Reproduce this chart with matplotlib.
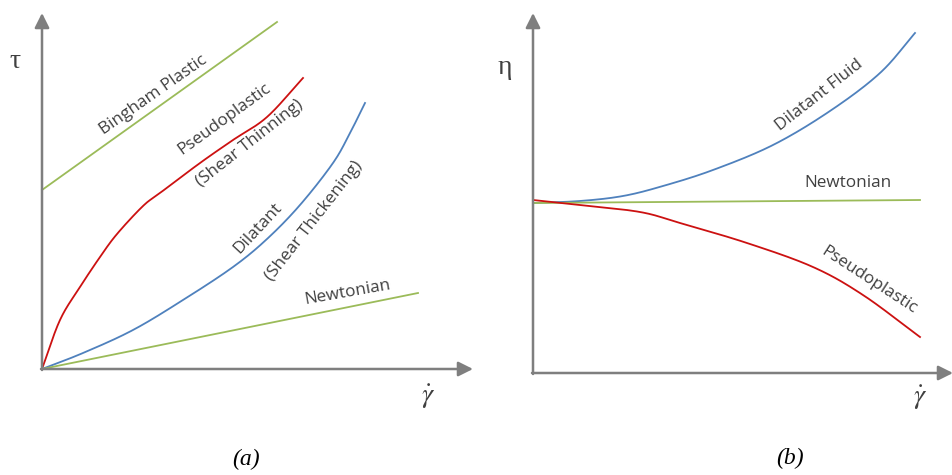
import numpy as np
import matplotlib
matplotlib.use('Agg')
import matplotlib.pyplot as plt

# shear rate vs stress / viscosity, arbitrary units (origin at axis corner)
# panel (a): shear stress tau vs shear rate
bingham_x = [0, 235]
bingham_y = [179, 347]
pseudo_x = [0, 18, 38, 58, 75, 101, 118, 158, 191, 225, 261]
pseudo_y = [0, 49, 82, 112, 135, 163, 176, 206, 229, 252, 291]
dilat_x = [0, 41, 91, 141, 191, 225, 258, 291, 308, 323]
dilat_y = [0, 16, 39, 69, 102, 130, 164, 206, 236, 266]
newt_x = [0, 376]
newt_y = [0, 76]

# panel (b): viscosity eta vs shear rate
b_dilat_x = [0, 47, 90, 130, 180, 240, 297, 347, 382]
b_dilat_y = [170, 172, 177, 187, 203, 228, 262, 300, 340]
b_newt_x = [0, 387]
b_newt_y = [170, 173]
b_pseudo_x = [0, 47, 107, 147, 214, 280, 330, 387]
b_pseudo_y = [173, 168, 161, 150, 130, 106, 78, 36]

GREEN = '#9bbb59'
RED = '#cc1111'
BLUE = '#4f81bd'
GRAY = '#7f7f7f'
TXT = '#404040'

plt.rcParams['font.family'] = ['Open Sans', 'DejaVu Sans']
plt.rcParams['mathtext.fontset'] = 'stix'

fig = plt.figure(figsize=(9.53, 4.75), dpi=100)
W, H = 953, 475

def make_axes(left_px, width_px, x0, y0):
    # 1 data unit == 1 pixel, origin at pixel (x0, y0)
    ax = fig.add_axes([left_px / W, 0, width_px / W, 1])
    ax.set_xlim(left_px - x0, left_px + width_px - x0)
    ax.set_ylim(-(H - y0), y0)
    ax.axis('off')
    return ax

def arrows(ax, xend, yend):
    ap = dict(arrowstyle='-|>', color=GRAY, lw=1.8, mutation_scale=22, shrinkA=0, shrinkB=0)
    ax.annotate('', xy=(0, yend), xytext=(0, -1), arrowprops=ap)
    ax.annotate('', xy=(xend, 0), xytext=(-1, 0), arrowprops=ap)

def smooth(x, y, n=30):
    # Catmull-Rom spline through the read-off points
    p = np.column_stack([x, y]).astype(float)
    p = np.vstack([2 * p[0] - p[1], p, 2 * p[-1] - p[-2]])
    out = []
    t = np.linspace(0, 1, n, endpoint=False)[:, None]
    for i in range(1, len(p) - 2):
        p0, p1, p2, p3 = p[i - 1], p[i], p[i + 1], p[i + 2]
        seg = 0.5 * ((2 * p1) + (-p0 + p2) * t + (2 * p0 - 5 * p1 + 4 * p2 - p3) * t ** 2
                     + (-p0 + 3 * p1 - 3 * p2 + p3) * t ** 3)
        out.append(seg)
    out.append(p[-2][None, :])
    out = np.vstack(out)
    return out[:, 0], out[:, 1]

# ---- panel (a)
ax1 = make_axes(0, 477, 42, 369)
arrows(ax1, 431, 356)
ax1.plot(bingham_x, bingham_y, color=GREEN, lw=1.3)
ax1.plot(*smooth(pseudo_x, pseudo_y), color=RED, lw=1.3)
ax1.plot(*smooth(dilat_x, dilat_y), color=BLUE, lw=1.3)
ax1.plot(newt_x, newt_y, color=GREEN, lw=1.3)

fs = 12.3
ax1.text(111, 274, 'Bingham Plastic', rotation=35, fontsize=fs, color=TXT, ha='center', va='center')
ax1.text(182, 250, 'Pseudoplastic', rotation=36, fontsize=fs, color=TXT, ha='center', va='center')
ax1.text(208, 226, '(Shear Thinning)', rotation=38, fontsize=fs, color=TXT, ha='center', va='center')
ax1.text(216, 141, 'Dilatant', rotation=47, fontsize=fs, color=TXT, ha='center', va='center')
ax1.text(272, 148, '(Shear Thickening)', rotation=52, fontsize=fs, color=TXT, ha='center', va='center')
ax1.text(306, 77, 'Newtonian', rotation=10, fontsize=fs, color=TXT, ha='center', va='center')

ax1.text(-27, 308, 'τ', fontsize=20, family='Liberation Serif', color=TXT, ha='center', va='center')
ax1.text(386, -28, r'$\dot{\gamma}$', fontsize=20, color=TXT, ha='center', va='center')
ax1.text(204, -90, '(a)', fontsize=17, style='italic', family='Liberation Serif', color='black',
         ha='center', va='center')

# ---- panel (b)
ax2 = make_axes(477, 476, 533, 373)
arrows(ax2, 420, 360)
ax2.plot(*smooth(b_dilat_x, b_dilat_y), color=BLUE, lw=1.3)
ax2.plot(b_newt_x, b_newt_y, color=GREEN, lw=1.3)
ax2.plot(*smooth(b_pseudo_x, b_pseudo_y), color=RED, lw=1.3)

ax2.text(286, 278, 'Dilatant Fluid', rotation=38, fontsize=fs, color=TXT, ha='center', va='center')
ax2.text(315, 190, 'Newtonian', rotation=0, fontsize=fs, color=TXT, ha='center', va='center')
ax2.text(336, 93, 'Pseudoplastic', rotation=-33, fontsize=fs, color=TXT, ha='center', va='center')

ax2.text(-28, 306, 'η', fontsize=20, family='Liberation Serif', color=TXT, ha='center', va='center')
ax2.text(387, -25, r'$\dot{\gamma}$', fontsize=20, color=TXT, ha='center', va='center')
ax2.text(257, -85, '(b)', fontsize=17, style='italic', family='Liberation Serif', color='black',
         ha='center', va='center')

fig.savefig('out.png', dpi=100)
